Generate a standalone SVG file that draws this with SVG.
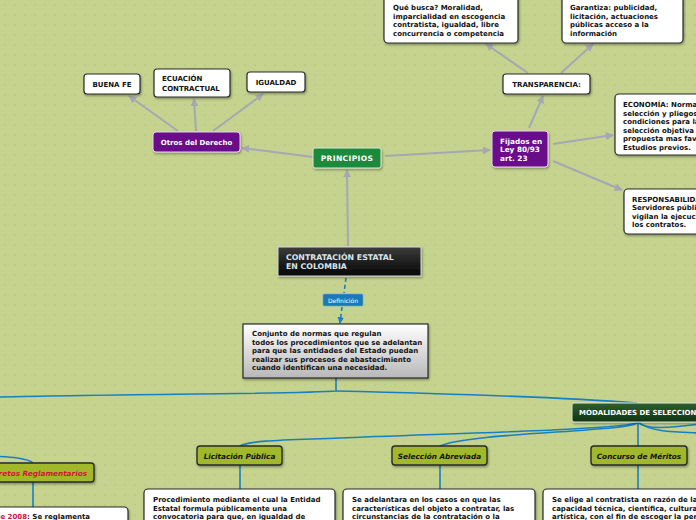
<svg xmlns="http://www.w3.org/2000/svg" width="696" height="520" viewBox="0 0 696 520">
<defs>
<pattern id="dots" x="0" y="0" width="10" height="10" patternUnits="userSpaceOnUse">
<circle cx="5" cy="5" r="0.8" fill="#b3c27d"/>
</pattern>
<marker id="ag" viewBox="0 0 10 10" refX="9" refY="5" markerWidth="4" markerHeight="4" orient="auto" markerUnits="strokeWidth">
<path d="M0,0 L10,5 L0,10 z" fill="#a3a8b3"/>
</marker>
<marker id="ab" viewBox="0 0 10 10" refX="9" refY="5" markerWidth="4" markerHeight="4" orient="auto" markerUnits="strokeWidth">
<path d="M0,0 L10,5 L0,10 z" fill="#1a7fc0"/>
</marker>
<linearGradient id="gBlack" x1="0" y1="0" x2="0" y2="1">
<stop offset="0" stop-color="#3c3c3c"/><stop offset="1" stop-color="#050505"/>
</linearGradient>
<linearGradient id="gDef" x1="0" y1="0" x2="0" y2="1">
<stop offset="0" stop-color="#ffffff"/><stop offset="1" stop-color="#b8b8b8"/>
</linearGradient>
<linearGradient id="gMod" x1="0" y1="0" x2="0" y2="1">
<stop offset="0" stop-color="#2f5f30"/><stop offset="1" stop-color="#0f3514"/>
</linearGradient>
<filter id="sh" x="-10%" y="-20%" width="130%" height="160%">
<feDropShadow dx="1" dy="1.5" stdDeviation="1" flood-color="#000" flood-opacity="0.35"/>
</filter>
<style>
text{font-family:"DejaVu Sans",Verdana,sans-serif;font-weight:bold;}
.w{fill:#fff;stroke:#2a2a2a;stroke-width:1.2;}
.t{font-size:7px;fill:#111;}
.tc{font-size:7px;fill:#111;text-anchor:middle;}
.tw{font-size:7px;fill:#fff;}
.pur{fill:#6b0b8b;stroke:#e6d6ee;stroke-width:1;}
.olv{fill:#a0b82c;stroke:#2a2a2a;stroke-width:1.4;}
.to{font-size:7.3px;fill:#111;font-style:italic;text-anchor:middle;}
.gc{fill:none;stroke:#a3a8b3;stroke-width:2;marker-end:url(#ag);}
.bc{fill:none;stroke:#1a7fc0;stroke-width:1.6;}
</style>
</defs>
<rect width="696" height="520" fill="#c5d38f"/>
<rect width="696" height="520" fill="url(#dots)"/>

<g id="connectors">
<path class="gc" d="M313,157 L242,148"/>
<path class="gc" d="M178,131 L129,96"/>
<path class="gc" d="M196,131 L194,99"/>
<path class="gc" d="M213,131 L263,94"/>
<path class="gc" d="M348,246 L347,170"/>
<path class="gc" d="M385,156 L490,150"/>
<path class="gc" d="M529,128 L543,96"/>
<path class="gc" d="M553,144 L613,135"/>
<path class="gc" d="M553,161 L622,190"/>
<path class="gc" d="M528,73 L486,44"/>
<path class="gc" d="M561,73 L593,44"/>
<path fill="none" stroke="#1a7fc0" stroke-width="1.6" stroke-dasharray="4,3" d="M346,278 L344,293"/>
<path fill="none" stroke="#1a7fc0" stroke-width="1.6" stroke-dasharray="4,3" marker-end="url(#ab)" d="M342,307 L340,323"/>
<path class="bc" d="M336,378 L336,391 C300,394 120,394 0,397"/>
<path class="bc" d="M336,391 C420,393 560,397 637,403"/>
<path class="bc" d="M638,422 L638,446"/>
<path class="bc" d="M638,422 C636,432 470,432 440,446"/>
<path class="bc" d="M638,422 C630,430 420,434 340,438 C290,440 250,440 240,446"/>
<path class="bc" d="M638,422 C645,430 670,428 700,424"/>
<path class="bc" d="M638,422 C650,432 675,432 700,433"/>
<path class="bc" d="M-10,456 C10,457 28,458 33,463"/>
<path class="bc" d="M33,482 L33,507"/>
<path class="bc" d="M240,465 L240,489"/>
<path class="bc" d="M440,465 L440,489"/>
<path class="bc" d="M638,465 L638,489"/>
</g>

<g id="buena-fe">
<rect class="w" x="84" y="74" width="56" height="20" rx="3" filter="url(#sh)"/>
<text class="tc" x="112" y="87">BUENA FE</text>
</g>
<g id="ecuacion">
<rect class="w" x="154" y="69" width="76" height="28" rx="3" filter="url(#sh)"/>
<text class="t" x="162" y="81">ECUACIÓN</text>
<text class="t" x="162" y="91">CONTRACTUAL</text>
</g>
<g id="igualdad">
<rect class="w" x="247" y="72" width="58" height="20" rx="3" filter="url(#sh)"/>
<text class="tc" x="276" y="85">IGUALDAD</text>
</g>
<g id="otros">
<rect class="pur" x="153" y="132" width="87" height="20" rx="3" filter="url(#sh)"/>
<text class="tw" x="196.5" y="145" text-anchor="middle">Otros del Derecho</text>
</g>
<g id="principios">
<rect x="313" y="148" width="68" height="20" rx="2" fill="#1e8a3c" stroke="#dfe9d6" stroke-width="1" filter="url(#sh)"/>
<text class="tw" x="347" y="161" text-anchor="middle" style="font-size:7.5px;letter-spacing:0.4px">PRINCIPIOS</text>
</g>
<g id="fijados">
<rect class="pur" x="492" y="131" width="56" height="36" rx="3" filter="url(#sh)"/>
<text class="tw" x="500" y="143.5" style="font-size:7.3px">Fijados en</text>
<text class="tw" x="500" y="152" style="font-size:7.3px">Ley 80/93</text>
<text class="tw" x="500" y="160.5" style="font-size:7.3px">art. 23</text>
</g>
<g id="transparencia">
<rect class="w" x="503" y="74" width="87" height="20" rx="3" filter="url(#sh)"/>
<text class="tc" x="546.5" y="87">TRANSPARENCIA:</text>
</g>
<g id="que-busca">
<rect class="w" x="384" y="-6" width="134" height="49" rx="4" filter="url(#sh)"/>
<text class="t" x="393" y="10">Qué busca? Moralidad,</text>
<text class="t" x="393" y="18.5">imparcialidad en escogencia</text>
<text class="t" x="393" y="27">contratista, igualdad, libre</text>
<text class="t" x="393" y="35.5">concurrencia o competencia</text>
</g>
<g id="garantiza">
<rect class="w" x="562" y="-6" width="121" height="49" rx="4" filter="url(#sh)"/>
<text class="t" x="570" y="10">Garantiza: publicidad,</text>
<text class="t" x="570" y="18.5">licitación, actuaciones</text>
<text class="t" x="570" y="27">públicas acceso a la</text>
<text class="t" x="570" y="35.5">información</text>
</g>
<g id="economia">
<rect class="w" x="615" y="94" width="100" height="61" rx="4" filter="url(#sh)"/>
<text class="t" x="623" y="107">ECONOMÍA: Normas de</text>
<text class="t" x="623" y="115.5">selección y pliegos de</text>
<text class="t" x="623" y="124">condiciones para la</text>
<text class="t" x="623" y="132.5">selección objetiva de la</text>
<text class="t" x="623" y="141">propuesta mas favorable.</text>
<text class="t" x="623" y="149.5">Estudios previos.</text>
</g>
<g id="responsabilidad">
<rect class="w" x="624" y="189" width="100" height="45" rx="4" filter="url(#sh)"/>
<text class="t" x="632" y="201.5">RESPONSABILIDAD:</text>
<text class="t" x="632" y="210">Servidores públicos</text>
<text class="t" x="632" y="218.5">vigilan la ejecución de</text>
<text class="t" x="632" y="227">los contratos.</text>
</g>
<g id="contratacion">
<rect x="278" y="247" width="143" height="29" fill="url(#gBlack)" stroke="#d8d8d8" stroke-width="1" filter="url(#sh)"/>
<text x="286" y="260" style="font-size:7.8px;fill:#dbe6ef">CONTRATACIÓN ESTATAL</text>
<text x="286" y="269" style="font-size:7.8px;fill:#dbe6ef">EN COLOMBIA</text>
</g>
<g id="definicion-label">
<rect x="323" y="294" width="40" height="12" rx="1.5" fill="#1a7ab8" stroke="#5fa8d8" stroke-width="0.6"/>
<text x="343" y="302.5" text-anchor="middle" style="font-size:6px;font-weight:normal;fill:#fff">Definición</text>
</g>
<g id="definicion">
<rect x="243" y="324" width="185" height="54" fill="url(#gDef)" stroke="#2a2a2a" stroke-width="1.2" filter="url(#sh)"/>
<text class="t" x="252" y="336">Conjunto de normas que regulan</text>
<text class="t" x="252" y="344.5">todos los procedimientos que se adelantan</text>
<text class="t" x="252" y="353">para que las entidades del Estado puedan</text>
<text class="t" x="252" y="361.5">realizar sus procesos de abastecimiento</text>
<text class="t" x="252" y="370">cuando identifican una necesidad.</text>
</g>
<g id="modalidades">
<rect x="572" y="403" width="140" height="19" rx="2" fill="url(#gMod)" stroke="#dfe9d6" stroke-width="1" filter="url(#sh)"/>
<text class="tw" x="579" y="415">MODALIDADES DE SELECCION</text>
</g>
<g id="licitacion">
<rect class="olv" x="197" y="446" width="85" height="19" rx="3" filter="url(#sh)"/>
<text class="to" x="239.5" y="458.5">Licitación Pública</text>
</g>
<g id="seleccion">
<rect class="olv" x="392" y="446" width="95" height="19" rx="3" filter="url(#sh)"/>
<text class="to" x="439.5" y="458.5">Selección Abreviada</text>
</g>
<g id="concurso">
<rect class="olv" x="591" y="446" width="96" height="19" rx="3" filter="url(#sh)"/>
<text class="to" x="639" y="458.5">Concurso de Méritos</text>
</g>
<g id="decretos">
<rect class="olv" x="-40" y="463" width="134" height="19" rx="3" filter="url(#sh)"/>
<text x="87" y="475.5" text-anchor="end" style="font-size:7.3px;font-style:italic;fill:#d4143c">Decretos Reglamentarios</text>
</g>
<g id="decretos-desc">
<rect class="w" x="-20" y="507" width="148" height="30" rx="4" filter="url(#sh)"/>
<text x="90" y="518.5" text-anchor="end" style="font-size:7px"><tspan fill="#d4143c">de 2008</tspan><tspan fill="#111">: Se reglamenta</tspan></text>
</g>
<g id="licitacion-desc">
<rect class="w" x="144" y="489" width="191" height="40" rx="4" filter="url(#sh)"/>
<text class="t" x="153" y="502">Procedimiento mediante el cual la Entidad</text>
<text class="t" x="153" y="510.5">Estatal formula públicamente una</text>
<text class="t" x="153" y="519">convocatoria para que, en igualdad de</text>
</g>
<g id="seleccion-desc">
<rect class="w" x="343" y="489" width="192" height="40" rx="4" filter="url(#sh)"/>
<text class="t" x="352" y="502">Se adelantara en los casos en que las</text>
<text class="t" x="352" y="510.5">características del objeto a contratar, las</text>
<text class="t" x="352" y="519">circunstancias de la contratación o la</text>
</g>
<g id="concurso-desc">
<rect class="w" x="543" y="489" width="190" height="40" rx="4" filter="url(#sh)"/>
<text class="t" x="552" y="502">Se elige al contratista en razón de la</text>
<text class="t" x="552" y="510.5">capacidad técnica, científica, cultural o</text>
<text class="t" x="552" y="519">artística, con el fin de escoger la persona</text>
</g>
</svg>
